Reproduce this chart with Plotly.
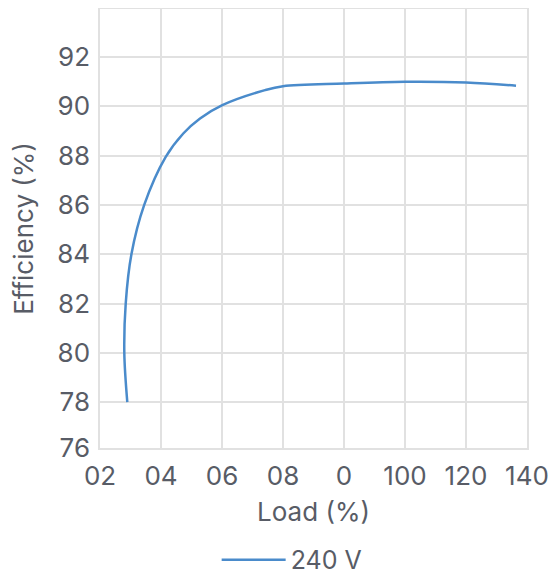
import plotly.graph_objects as go

load = [8.95, 7.97, 8.43, 10.3, 14.5, 21.5, 27.3, 32.8, 40.1, 54.1, 60.0, 80.0, 100.0, 120.0, 136.4]
eff = [78.0, 80.0, 82.0, 84.0, 86.0, 87.94, 88.9, 89.51, 90.05, 90.66, 90.82, 90.93, 91.0, 90.97, 90.84]

x_tickvals = [0, 20, 40, 60, 80, 100, 120, 140]
x_ticktext = ["02", "04", "06", "08", "0", "100", "120", "140"]
y_tickvals = [76.14, 78, 80, 82, 84, 86, 88, 90, 92]
y_ticktext = ["76", "78", "80", "82", "84", "86", "88", "90", "92"]

font_family = "Inter, Noto Sans, sans-serif"
text_color = "#585c66"
grid_color = "#e1e1e1"
fs = 26

fig = go.Figure()
fig.add_trace(go.Scatter(
    x=load, y=eff, mode="lines", name="240 V",
    line=dict(color="#4a8bcb", width=2.5, shape="spline", smoothing=1.0),
))

fig.update_layout(
    width=548, height=569,
    margin=dict(l=92, r=29, t=1, b=129, autoexpand=False),
    paper_bgcolor="white", plot_bgcolor="white",
    font=dict(family=font_family, size=fs, color=text_color),
    showlegend=True,
    legend=dict(orientation="h", x=0.45, xanchor="center", y=-0.255, yanchor="middle",
                itemwidth=64, font=dict(size=25, color=text_color)),
    xaxis=dict(
        range=[0, 140], tickvals=x_tickvals, ticktext=x_ticktext,
        showgrid=True, gridcolor=grid_color, gridwidth=1.5,
        showline=True, linecolor=grid_color, linewidth=1.5, mirror=True,
        zeroline=False, ticks="", ticklabelstandoff=4, automargin=False,
        title=dict(text="Load (%)", standoff=13, font=dict(size=fs, color=text_color)),
        tickfont=dict(size=fs, color=text_color),
    ),
    yaxis=dict(
        range=[76.14, 93.95], tickvals=y_tickvals, ticktext=y_ticktext,
        showgrid=True, gridcolor=grid_color, gridwidth=1.5,
        showline=True, linecolor=grid_color, linewidth=1.5, mirror=True,
        zeroline=False, ticks="", ticklabelstandoff=3, automargin=False,
        title=dict(text="Efficiency (%)", standoff=20, font=dict(size=fs, color=text_color)),
        tickfont=dict(size=fs, color=text_color),
    ),
)

fig.write_html("out.html")
